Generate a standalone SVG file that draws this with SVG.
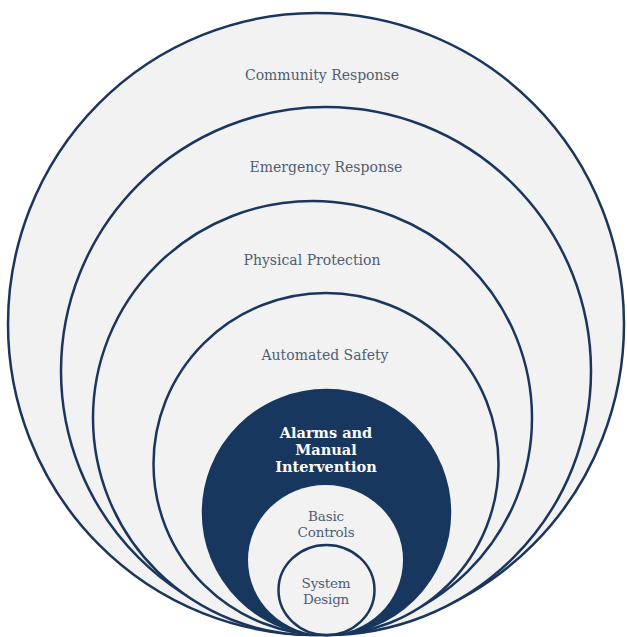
<svg xmlns="http://www.w3.org/2000/svg" width="627" height="637" viewBox="0 0 627 637">
  <style>
    .ring { fill: #f2f2f2; stroke: #1b365d; stroke-width: 2.5; }
    .core { fill: #17375e; stroke: #17375e; stroke-width: 2.5; }
    .lbl { font-family: "DejaVu Serif", "Liberation Serif", serif; font-size: 14px; fill: #4f5d73; text-anchor: middle; }
    .lbl-sm { font-family: "DejaVu Serif", "Liberation Serif", serif; font-size: 13.5px; fill: #4f5d73; text-anchor: middle; letter-spacing: -0.2px; }
    .lbl-strong { font-family: "DejaVu Serif", "Liberation Serif", serif; font-size: 14.5px; font-weight: bold; fill: #ffffff; text-anchor: middle; }
  </style>
  <rect width="627" height="637" fill="#ffffff"/>

  <g id="community-response">
    <ellipse class="ring" cx="316" cy="324" rx="308" ry="311"/>
    <text class="lbl" x="322" y="80">Community Response</text>
  </g>

  <g id="emergency-response">
    <ellipse class="ring" cx="326" cy="371" rx="265" ry="264"/>
    <text class="lbl" x="326" y="172">Emergency Response</text>
  </g>

  <g id="physical-protection">
    <ellipse class="ring" cx="312.5" cy="418" rx="219.5" ry="217"/>
    <text class="lbl" x="312" y="265">Physical Protection</text>
  </g>

  <g id="automated-safety">
    <ellipse class="ring" cx="326" cy="464" rx="172.5" ry="171"/>
    <text class="lbl" x="325" y="360">Automated Safety</text>
  </g>

  <g id="alarms-manual-intervention">
    <ellipse class="core" cx="326.5" cy="512.5" rx="123.5" ry="122.5"/>
    <text class="lbl-strong" x="326" y="438">Alarms and</text>
    <text class="lbl-strong" x="326" y="455">Manual</text>
    <text class="lbl-strong" x="326" y="472">Intervention</text>
  </g>

  <g id="basic-controls">
    <ellipse cx="325.5" cy="560" rx="77.5" ry="75" fill="#f2f2f2"/>
    <text class="lbl-sm" x="326" y="521">Basic</text>
    <text class="lbl-sm" x="326" y="537">Controls</text>
  </g>

  <g id="system-design">
    <ellipse class="ring" cx="326.5" cy="590" rx="48" ry="45"/>
    <text class="lbl-sm" x="326" y="588">System</text>
    <text class="lbl-sm" x="326" y="604">Design</text>
  </g>

  <g id="connectors"/>
</svg>
